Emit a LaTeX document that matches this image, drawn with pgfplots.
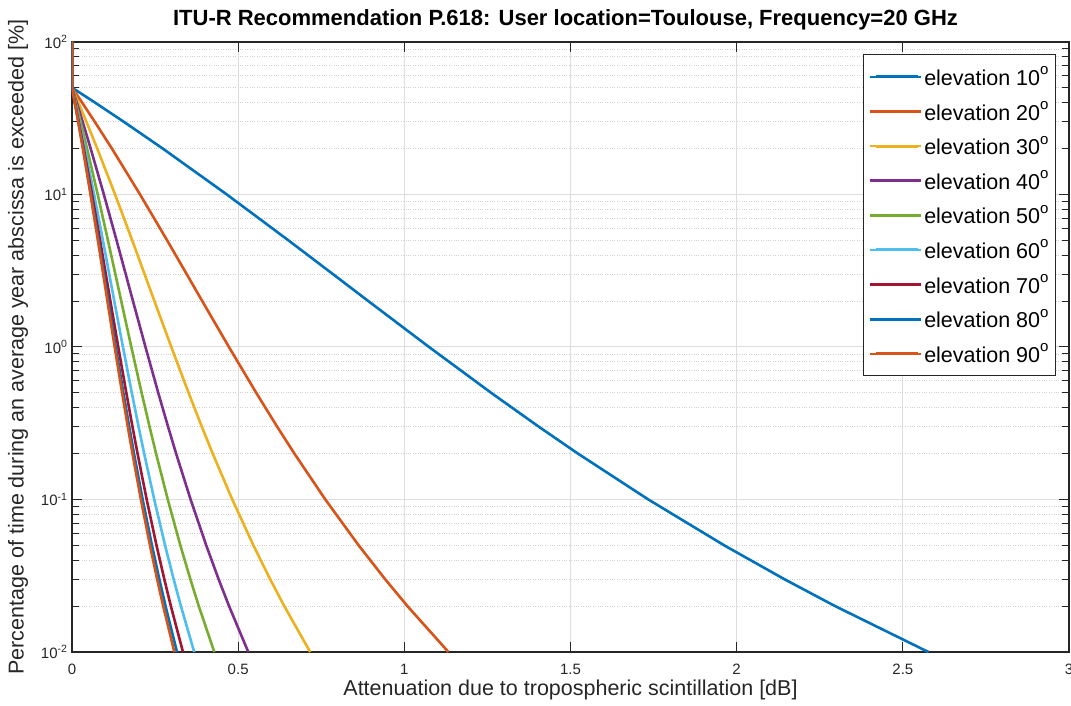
\documentclass[border=0pt]{standalone}
\usepackage{fontspec}
\setmainfont{Liberation Sans}
\usepackage{pgfplots}
\pgfplotsset{compat=1.18}
\definecolor{mBlue}{RGB}{0,114,189}
\definecolor{mOrange}{RGB}{217,83,25}
\definecolor{mYellow}{RGB}{237,177,32}
\definecolor{mPurple}{RGB}{126,47,142}
\definecolor{mGreen}{RGB}{119,172,48}
\definecolor{mCyan}{RGB}{77,190,238}
\definecolor{mRed}{RGB}{162,20,47}
\definecolor{axGray}{RGB}{38,38,38}
\newcommand{\elev}[1]{elevation #1\raisebox{0.5em}{\fontsize{15}{15}\selectfont o}}
\begin{document}
\begin{tikzpicture}
\path[use as bounding box] (0,0) rectangle (1071pt,706pt);
\begin{axis}[
  at={(72pt,54pt)}, anchor=south west,
  scale only axis, width=997pt, height=610pt,
  xmin=0, xmax=3, ymode=log, ymin=0.01, ymax=100,
  xtick={0,0.5,1,1.5,2,2.5,3},
  xticklabels={0,0.5,1,1.5,2,2.5,3},
  ytick={0.01,0.1,1,10,100},
  yticklabels={10\textsuperscript{-2},10\textsuperscript{-1},10\textsuperscript{0},10\textsuperscript{1},10\textsuperscript{2}},
  minor ytick={0.02,0.03,0.04,0.05,0.06,0.07,0.08,0.09,
               0.2,0.3,0.4,0.5,0.6,0.7,0.8,0.9,
               2,3,4,5,6,7,8,9,20,30,40,50,60,70,80,90},
  xmajorgrids, ymajorgrids, yminorgrids,
  major grid style={color=black!13, line width=1pt},
  minor grid style={color=black!18, dotted, line width=0.9pt},
  axis line style={draw=axGray, line width=1.3pt},
  tick style={draw=axGray, line width=1pt},
  major tick length=10pt, minor tick length=7pt,
  tick align=inside,
  ticklabel style={font=\fontsize{15}{18}\selectfont, text=axGray},
  xticklabel style={anchor=center, yshift=-17pt},
  yticklabel style={anchor=east, xshift=-1pt},
  title={ITU-R Recommendation P.618: User location=Toulouse, Frequency=20 GHz},
  title style={font=\fontsize{22}{26}\selectfont\bfseries, at={(axis description cs:0.5,1)}, anchor=center, yshift=16pt, xshift=-5pt},
  xlabel={Attenuation due to tropospheric scintillation [dB]},
  xlabel style={font=\fontsize{21.5}{25}\selectfont, text=axGray, at={(axis description cs:0.5,0)}, anchor=center, yshift=-38pt},
  ylabel={Percentage of time during an average year abscissa is exceeded [\%]},
  ylabel style={font=\fontsize{21.5}{25}\selectfont, text=axGray, at={(axis description cs:-0.0542,0.5)}, anchor=center},
  legend style={at={(axis description cs:0.987,0.980)}, anchor=north east,
    font=\fontsize{21.5}{25}\selectfont, draw=axGray, line width=1pt, fill=white,
    row sep=10.3pt, inner xsep=5pt, inner ysep=10pt},
  legend cell align=left,
  legend image code/.code={\path (0pt,0pt) -- (51pt,0pt); \draw[#1, line width=3pt] (6pt,0pt) -- (48pt,0pt);},
  every axis plot/.append style={line width=2.6pt},
]
% elevation 10
\addplot[mBlue] coordinates {(0,100) (0,50) (0.0012,50) (0.0697,40) (0.1556,30) (0.2732,20) (0.4659,10) (0.6514,5) (0.7856,3) (0.8917,2) (1.0743,1) (1.2616,0.5) (1.4047,0.3) (1.5224,0.2) (1.7343,0.1) (1.9628,0.05) (2.1438,0.03) (2.2962,0.02) (2.5769,0.01)};
\addlegendentry{\elev{10}}
% elevation 20
\addplot[mOrange] coordinates {(0,100) (0,50) (0.0005,50) (0.0306,40) (0.0684,30) (0.1201,20) (0.2048,10) (0.2863,5) (0.3453,3) (0.3919,2) (0.4722,1) (0.5545,0.5) (0.6174,0.3) (0.6692,0.2) (0.7623,0.1) (0.8627,0.05) (0.9423,0.03) (1.0093,0.02) (1.1327,0.01)};
\addlegendentry{\elev{20}}
% elevation 30
\addplot[mYellow] coordinates {(0,100) (0,50) (0.0003,50) (0.0194,40) (0.0433,30) (0.0760,20) (0.1296,10) (0.1812,5) (0.2185,3) (0.2480,2) (0.2988,1) (0.3509,0.5) (0.3907,0.3) (0.4234,0.2) (0.4824,0.1) (0.5459,0.05) (0.5963,0.03) (0.6387,0.02) (0.7167,0.01)};
\addlegendentry{\elev{30}}
% elevation 40
\addplot[mPurple] coordinates {(0,100) (0,50) (0.0003,50) (0.0143,40) (0.0320,30) (0.0562,20) (0.0959,10) (0.1341,5) (0.1617,3) (0.1835,2) (0.2211,1) (0.2596,0.5) (0.2891,0.3) (0.3133,0.2) (0.3569,0.1) (0.4040,0.05) (0.4412,0.03) (0.4726,0.02) (0.5304,0.01)};
\addlegendentry{\elev{40}}
% elevation 50
\addplot[mGreen] coordinates {(0,100) (0,50) (0.0002,50) (0.0116,40) (0.0259,30) (0.0454,20) (0.0774,10) (0.1082,5) (0.1305,3) (0.1482,2) (0.1785,1) (0.2096,0.5) (0.2334,0.3) (0.2530,0.2) (0.2882,0.1) (0.3261,0.05) (0.3562,0.03) (0.3815,0.02) (0.4282,0.01)};
\addlegendentry{\elev{50}}
% elevation 60
\addplot[mCyan] coordinates {(0,100) (0,50) (0.0002,50) (0.0099,40) (0.0222,30) (0.0390,20) (0.0665,10) (0.0930,5) (0.1121,3) (0.1272,2) (0.1533,1) (0.1800,0.5) (0.2004,0.3) (0.2172,0.2) (0.2475,0.1) (0.2801,0.05) (0.3059,0.03) (0.3277,0.02) (0.3677,0.01)};
\addlegendentry{\elev{60}}
% elevation 70
\addplot[mRed] coordinates {(0,100) (0,50) (0.0002,50) (0.0090,40) (0.0202,30) (0.0354,20) (0.0604,10) (0.0844,5) (0.1018,3) (0.1155,2) (0.1392,1) (0.1635,0.5) (0.1820,0.3) (0.1973,0.2) (0.2247,0.1) (0.2543,0.05) (0.2778,0.03) (0.2975,0.02) (0.3339,0.01)};
\addlegendentry{\elev{70}}
% elevation 80
\addplot[mBlue] coordinates {(0,100) (0,50) (0.0002,50) (0.0085,40) (0.0191,30) (0.0335,20) (0.0571,10) (0.0799,5) (0.0963,3) (0.1093,2) (0.1317,1) (0.1547,0.5) (0.1722,0.3) (0.1866,0.2) (0.2126,0.1) (0.2406,0.05) (0.2628,0.03) (0.2815,0.02) (0.3159,0.01)};
\addlegendentry{\elev{80}}
% elevation 90
\addplot[mOrange] coordinates {(0,100) (0,50) (0.0001,50) (0.0083,40) (0.0186,30) (0.0327,20) (0.0557,10) (0.0779,5) (0.0939,3) (0.1066,2) (0.1284,1) (0.1508,0.5) (0.1679,0.3) (0.1820,0.2) (0.2073,0.1) (0.2346,0.05) (0.2562,0.03) (0.2744,0.02) (0.3080,0.01)};
\addlegendentry{\elev{90}}
\end{axis}
\end{tikzpicture}
\end{document}
